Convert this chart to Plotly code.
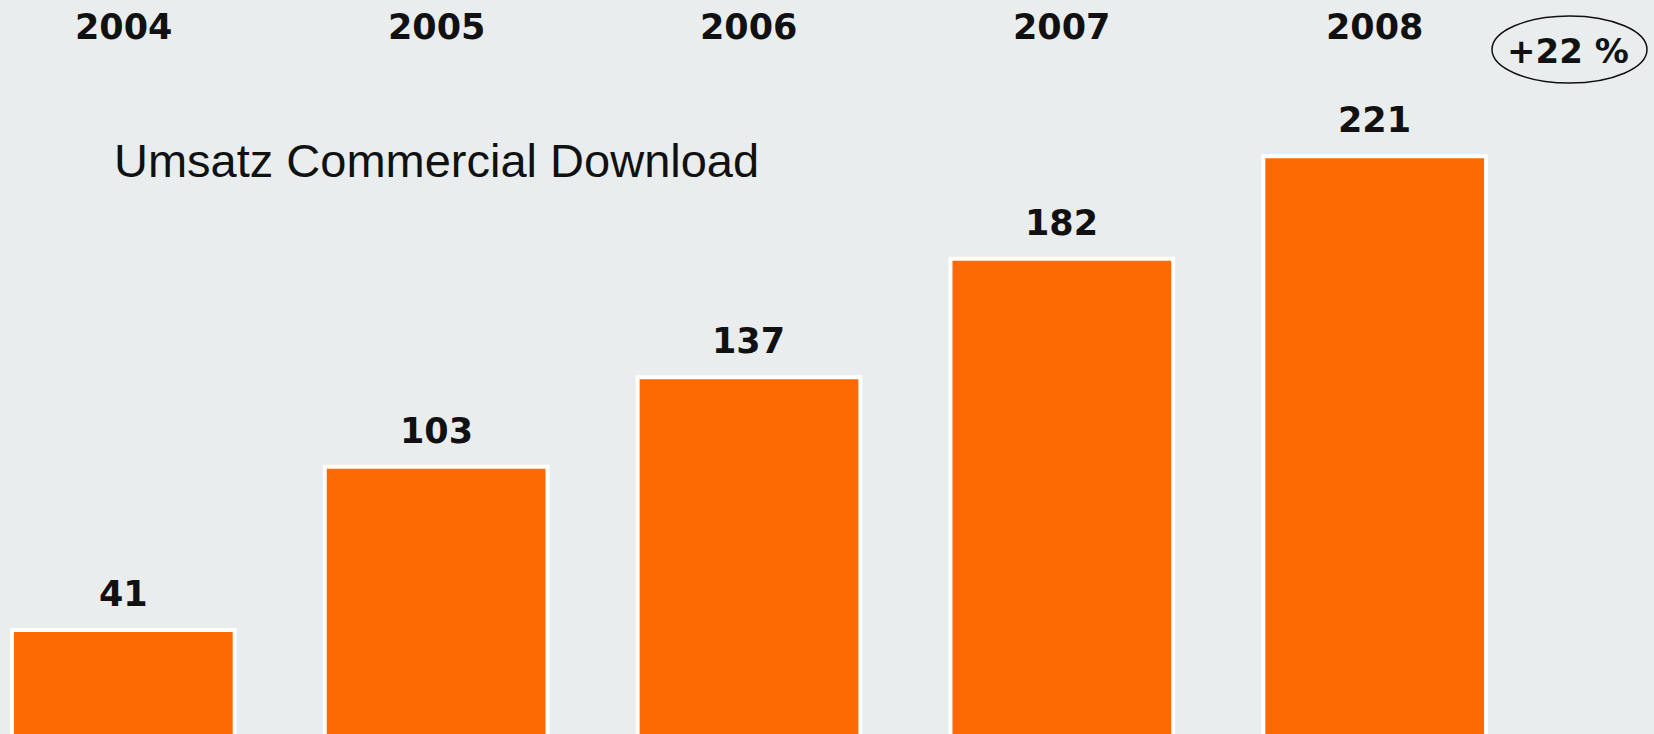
import plotly.graph_objects as go

# Revenue, commercial download (Umsatz Commercial Download), by year
years = ["2004", "2005", "2006", "2007", "2008"]
umsatz = [41, 103, 137, 182, 221]
growth_label = "+22 %"
title_text = "Umsatz Commercial Download"

BG = "#E9EDEE"
ORANGE = "#FD6A02"
W, H = 1654, 734

fig = go.Figure()
fig.add_trace(go.Bar(
    x=years,
    y=umsatz,
    width=0.712,
    marker=dict(color=ORANGE, line=dict(color="white", width=4)),
    hoverinfo="skip",
))

annotations = []
# value labels above each bar (category axis positions are 0..n-1)
for i, v in enumerate(umsatz):
    annotations.append(dict(
        x=i, y=v, xref="x", yref="y", text=f"<b>{v}</b>",
        showarrow=False, xanchor="center", yanchor="middle", yshift=36,
        font=dict(family="DejaVu Sans", size=35, color="#111111"),
    ))
# year headings along the top
for i, yr in enumerate(years):
    annotations.append(dict(
        x=i, y=1 - 27 / H, xref="x", yref="paper", text=f"<b>{yr}</b>",
        showarrow=False, xanchor="center", yanchor="middle",
        font=dict(family="DejaVu Sans", size=35, color="#111111"),
    ))
# chart title
annotations.append(dict(
    x=112 / W, y=1 - 160 / H, xref="paper", yref="paper", text=title_text,
    showarrow=False, xanchor="left", yanchor="middle",
    font=dict(family="Liberation Sans", size=47, color="#111111"),
))
# growth badge
annotations.append(dict(
    x=1567.5 / W, y=1 - 51 / H, xref="paper", yref="paper",
    text=f"<b>{growth_label}</b>",
    showarrow=False, xanchor="center", yanchor="middle",
    font=dict(family="DejaVu Sans", size=34, color="#111111"),
))

fig.add_shape(
    type="circle", xref="paper", yref="paper",
    x0=1492 / W, x1=1647 / W, y0=1 - 83 / H, y1=1 - 16 / H,
    line=dict(color="#111111", width=1.5), fillcolor="rgba(0,0,0,0)",
)

fig.update_layout(
    width=W, height=H,
    margin=dict(l=0, r=0, t=0, b=0),
    paper_bgcolor=BG, plot_bgcolor=BG,
    showlegend=False,
    annotations=annotations,
    xaxis=dict(type="category", range=[-0.3941, 4.8928], visible=False,
               fixedrange=True),
    yaxis=dict(range=[1.52, 280.3], visible=False, fixedrange=True),
)

fig.write_html("out.html")
